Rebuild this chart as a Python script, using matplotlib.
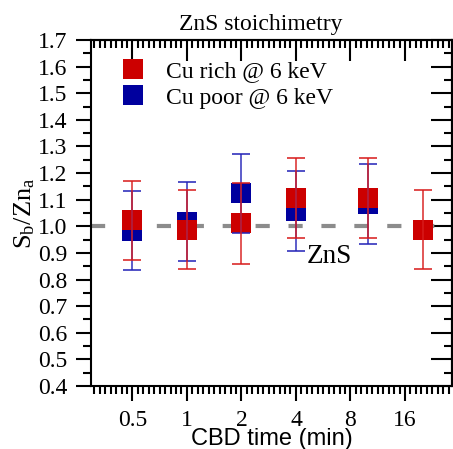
import numpy as np
import matplotlib
matplotlib.use("Agg")
import matplotlib.pyplot as plt
from matplotlib.ticker import FixedLocator, NullFormatter

# CBD deposition time (min) and S/Zn ratio measured at 6 keV
rich_time = [0.5, 1, 2, 4, 10, 20]
rich_ratio = [1.022, 0.988, 1.011, 1.105, 1.107, 0.987]
rich_err = [0.150, 0.150, 0.152, 0.150, 0.151, 0.149]

poor_time = [0.5, 1, 2, 4, 10]
poor_ratio = [0.984, 1.018, 1.124, 1.056, 1.085]
poor_err = [0.150, 0.150, 0.148, 0.150, 0.150]

x_ticks = [0.5, 1, 2, 4, 8, 16]
x_ticklabels = ["0.5", "1", "2", "4", "8", "16"]
y_ticks = [0.4, 0.5, 0.6, 0.7, 0.8, 0.9, 1.0, 1.1, 1.2, 1.3, 1.4, 1.5, 1.6, 1.7]
stoich_ratio = 1.0

SERIF = "Liberation Serif"
SANS = "Liberation Sans"
plt.rcParams["font.family"] = SERIF
plt.rcParams["mathtext.fontset"] = "custom"
plt.rcParams["mathtext.rm"] = SERIF
plt.rcParams["mathtext.it"] = SERIF + ":italic"

RED = "#cc0000"
BLUE = "#00009e"
RED_BAR = "#d81c1c"
BLUE_BAR = "#2424b8"

W, H = 453, 449
fig = plt.figure(figsize=(W / 100, H / 100), dpi=100)
left, right, top, bottom = 91, 452, 40, 386
ax = fig.add_axes([left / W, 1 - bottom / H, (right - left) / W, (bottom - top) / H])

ax.set_xscale("log", base=2)
ax.set_xlim(0.2953, 29.1)
ax.set_ylim(0.4, 1.7)

# reference line for stoichiometric ZnS
ax.axhline(stoich_ratio, color="#8c8c8c", lw=3, dashes=(3.4, 4.5), zorder=1)

blue_pts, = ax.plot(poor_time, poor_ratio, ls="none", marker="s", ms=14.4, mew=0,
                    color=BLUE, label="Cu poor @ 6 keV", zorder=2)
red_pts, = ax.plot(rich_time, rich_ratio, ls="none", marker="s", ms=14.4, mew=0,
                   color=RED, label="Cu rich @ 6 keV", zorder=3)
ax.errorbar(poor_time, poor_ratio, yerr=poor_err, fmt="none", ecolor=BLUE_BAR,
            elinewidth=1.3, capsize=6.5, capthick=1.4, alpha=0.8, zorder=4)
ax.errorbar(rich_time, rich_ratio, yerr=rich_err, fmt="none", ecolor=RED_BAR,
            elinewidth=1.3, capsize=6.5, capthick=1.4, alpha=0.8, zorder=5)

ax.text(4.6, 0.862, "ZnS", fontsize=19.5, ha="left", va="baseline", zorder=6)

# ticks: outward on bottom/left, inward on top/right
minor_x = [2 ** (k / 10) for k in range(-20, 50) if k % 10 != 0]
minor_y = np.arange(0.45, 1.7, 0.1)

ax.xaxis.set_major_locator(FixedLocator(x_ticks))
ax.set_xticklabels(x_ticklabels)
ax.xaxis.set_minor_locator(FixedLocator(minor_x))
ax.xaxis.set_minor_formatter(NullFormatter())
ax.set_yticks(y_ticks)
ax.set_yticklabels([f"{v:.1f}" for v in y_ticks])
ax.yaxis.set_minor_locator(FixedLocator(minor_y))

ax.tick_params(which="both", direction="out", labelsize=17, width=1.5, pad=6)
ax.tick_params(which="major", length=11)
ax.tick_params(which="minor", length=5.5)

for sp in ax.spines.values():
    sp.set_linewidth(1.5)

sx = ax.secondary_xaxis("top")
sx.xaxis.set_major_locator(FixedLocator(x_ticks))
sx.xaxis.set_minor_locator(FixedLocator(minor_x))
sx.xaxis.set_major_formatter(NullFormatter())
sx.xaxis.set_minor_formatter(NullFormatter())
sx.tick_params(which="both", direction="in", width=1.5)
sx.tick_params(which="major", length=15)
sx.tick_params(which="minor", length=6)
sx.spines["top"].set_linewidth(1.5)

sy = ax.secondary_yaxis("right")
sy.yaxis.set_major_locator(FixedLocator(y_ticks))
sy.yaxis.set_minor_locator(FixedLocator(minor_y))
sy.yaxis.set_major_formatter(NullFormatter())
sy.tick_params(which="both", direction="in", width=1.5)
sy.tick_params(which="major", length=15)
sy.tick_params(which="minor", length=6)
sy.spines["right"].set_linewidth(1.5)

ax.set_xlabel("CBD time (min)", fontsize=17, family=SANS)
ax.xaxis.set_label_coords(0.5, -0.12)
ax.set_ylabel(r"S$_\mathrm{b}$/Zn$_\mathrm{a}$", fontsize=19)
ax.yaxis.set_label_coords(-0.15, 0.5)

fig.text(260.5 / W, 1 - 30 / H, "ZnS stoichimetry", fontsize=17,
         ha="center", va="baseline")

ax.legend(handles=[red_pts, blue_pts], loc="upper left",
          bbox_to_anchor=(0.0837, 0.94), frameon=False, fontsize=17,
          handlelength=1.0, handletextpad=0.9, labelspacing=0.2,
          borderpad=0, borderaxespad=0)

fig.savefig("out.png", dpi=100)
